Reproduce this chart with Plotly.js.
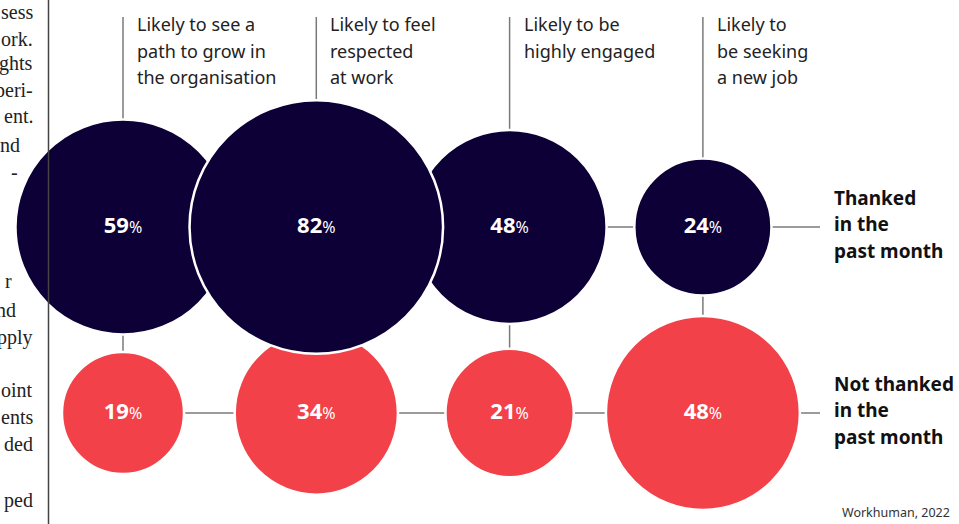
<!DOCTYPE html>
<html><head><meta charset="utf-8">
<script src="https://cdn.plot.ly/plotly-3.0.1.min.js"></script>
<style>html,body{margin:0;padding:0;background:#fff}#c{width:959px;height:524px}</style>
</head><body><div id="c"></div>
<script>
// ---- data ----
const measures = [
  "Likely to see a<br>path to grow in<br>the organisation",
  "Likely to feel<br>respected<br>at work",
  "Likely to be<br>highly engaged",
  "Likely to<br>be seeking<br>a new job"
];
const groups = ["Thanked<br>in the<br>past month", "Not thanked<br>in the<br>past month"];
const thanked = [59, 82, 48, 24];
const notThanked = [19, 34, 21, 48];
const source = "Workhuman, 2022";
// cut-off body text from the adjacent column
const sideText = ["sess","ork.","ghts","peri-","ent.","nd","-","r","nd","pply","oint","ents","ded","ped"];
const sideTextY = [12,39,64,90,116,145,172,281,310,337,390,417,444,500];
const sideTextX = [35,35,35,35,35,22,20,14,18,35,35,35,35,35];

// ---- styles ----
const NAVY = "#0d0036", RED = "#f24148", LINE = "#7a7a7a";
const W = 959, H = 524;
const colPx0 = 123, colStep = 193.3, rowTopPx = 227, rowBotPx = 413;
const rowStep = rowBotPx - rowTopPx;
const xr = [-colPx0/colStep, (W-colPx0)/colStep];
const yr = [-(H-rowBotPx)/rowStep, 1 + rowTopPx/rowStep];
const pxToX = p => (p-colPx0)/colStep;
const pxToY = p => 1 - (p-rowTopPx)/rowStep;
const idx = measures.map((_,i)=>i);
const SF = "'Noto Sans', sans-serif";
const PX_PER_SQRT = 28.0; // bubble diameter (px) per sqrt(value): area ∝ value

function lbl(v){return "<b>"+v+"</b><span style='font-size:16px;font-weight:400'>%</span>";}
function bubbleTrace(vals, y, color, order){
  return {
    type:"scatter", mode:"markers+text",
    x: order, y: order.map(()=>y),
    text: order.map(i=>lbl(vals[i])),
    textposition:"middle center",
    textfont:{family:SF, size:22, color:"#ffffff"},
    marker:{size: order.map(i=>Math.sqrt(vals[i])), sizemode:"diameter", sizeref:1/PX_PER_SQRT,
            color:color, opacity:1, line:{color:"#ffffff", width:2.5}},
    hoverinfo:"skip", showlegend:false, cliponaxis:false
  };
}
// largest top bubble drawn last so it sits in front
const topOrder = idx.slice().sort((a,b)=>thanked[a]-thanked[b]);
const botOrder = idx.slice().sort((a,b)=>notThanked[a]-notThanked[b]);
const traces = [bubbleTrace(notThanked, 0, RED, botOrder), bubbleTrace(thanked, 1, NAVY, topOrder)];

const shapes = [];
const lineEndX = pxToX(820);
[1,0].forEach(r=>shapes.push({type:"line", xref:"x", yref:"y", x0:0, x1:lineEndX, y0:r, y1:r,
  line:{color:LINE, width:1.5}, layer:"below"}));
idx.forEach(i=>shapes.push({type:"line", xref:"x", yref:"y", x0:i, x1:i, y0:0, y1:pxToY(17),
  line:{color:LINE, width:1.5}, layer:"below"}));
shapes.push({type:"line", xref:"paper", yref:"paper", x0:48.5/W, x1:48.5/W, y0:0, y1:1,
  line:{color:"#444", width:1.5}});

const annotations = [];
measures.forEach((m,i)=>{
  m.split("<br>").forEach((ln,k)=>annotations.push({xref:"x", yref:"paper", x:i, xshift:12,
    y:1-(24+k*26.5)/H, xanchor:"left", yanchor:"middle", showarrow:false, text:ln,
    font:{family:SF, size:18, color:"#222"}}));
});
groups.forEach((g,r)=>{
  const c = r===0 ? 198 : 384;
  g.split("<br>").forEach((ln,k)=>annotations.push({xref:"paper", yref:"paper", x:832/W,
    y:1-(c+k*26.3)/H, xanchor:"left", yanchor:"middle", showarrow:false, text:"<b>"+ln+"</b>",
    font:{family:SF, size:19, color:"#111"}}));
});
annotations.push({xref:"paper", yref:"paper", x:952/W, y:1-512/H, xanchor:"right", yanchor:"middle",
  showarrow:false, text:source, font:{family:SF, size:12.5, color:"#333"}});
sideText.forEach((t,k)=>annotations.push({xref:"paper", yref:"paper", x:sideTextX[k]/W, y:1-sideTextY[k]/H,
  xanchor:"right", yanchor:"middle", showarrow:false, text:t,
  font:{family:"'Liberation Serif', serif", size:20, color:"#222"}}));

const layout = {
  width:W, height:H, margin:{l:0,r:0,t:0,b:0},
  paper_bgcolor:"#fff", plot_bgcolor:"#fff",
  xaxis:{range:xr, visible:false, fixedrange:true},
  yaxis:{range:yr, visible:false, fixedrange:true},
  shapes:shapes, annotations:annotations, showlegend:false
};
Plotly.newPlot("c", traces, layout, {staticPlot:true, displayModeBar:false});
</script></body></html>
